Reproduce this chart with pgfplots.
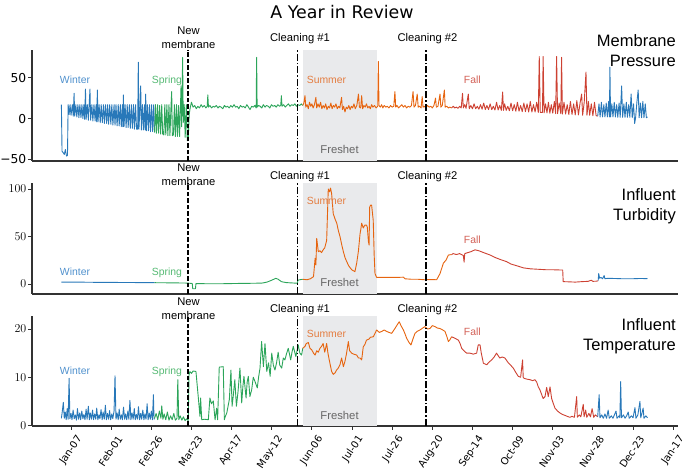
\documentclass[border=0pt]{standalone}
\usepackage{pgfplots}
\pgfplotsset{compat=1.18}
\usepackage{fontspec}
\setmainfont{Liberation Sans}
\newfontfamily\dejavu{DejaVu Sans}
\definecolor{cW}{RGB}{40,120,185}
\definecolor{cSp}{RGB}{44,165,90}
\definecolor{cSu}{RGB}{230,100,15}
\definecolor{cF}{RGB}{205,65,50}
\definecolor{lW}{RGB}{80,145,205}
\definecolor{lSp}{RGB}{85,185,115}
\definecolor{lSu}{RGB}{228,125,65}
\definecolor{lF}{RGB}{210,95,85}
\definecolor{shade}{RGB}{233,234,236}
\definecolor{spine}{RGB}{50,50,50}
\pgfplotsset{
  panel/.style={scale only axis, width=646pt, xmin=-18.3, xmax=384,
    axis x line*=bottom, axis y line*=left,
    axis line style={line width=1.1pt, color=spine},
    every tick/.style={spine, line width=0.9pt},
    tick align=outside, major tick length=4pt,
    yticklabel style={font=\dejavu\fontsize{12.3}{14}\selectfont, inner sep=1.5pt},
    clip=false},
  data/.style={line width=0.9pt, line join=round},
  memb/.style={black, line width=1.3pt, dash pattern=on 4.5pt off 2pt},
  clean/.style={black, line width=1.3pt, dash pattern=on 7pt off 2pt on 1.5pt off 2pt},
}
\begin{document}
\begin{tikzpicture}
\useasboundingbox (0pt,0pt) rectangle (685pt,470pt);
\node[font=\dejavu\fontsize{17.4}{20}\selectfont] at (342pt,458pt) {A Year in Review};
% ---------------- Panel 1: Membrane Pressure
\begin{axis}[panel, at={(32pt,309pt)}, anchor=south west, height=111pt,
  ymin=-52, ymax=84, xtick=\empty, ytick={-50,0,50}, yticklabels={−50,0,50}]
\addplot[draw=none, fill=shade] coordinates {(150.3,-52) (196.3,-52) (196.3,84) (150.3,84)} -- cycle;
\addplot[data, cW] coordinates {(0,17)(0.4,-40)(1.2,-42)(1.8,-44)(2.5,-38)(3.2,-46)(3.8,-45)(4.2,17)(4.8,5)(5.4,17)(6,4)(6.8,17)(7.4,3)(7.9,31)(8.3,3)(9,17)(9.6,2)(10.3,17)(10.9,1)(11.5,17)(12.2,1)(12.8,17)(13.4,0)(14,17)(14.5,-1)(15,36)(15.4,-1)(16.2,17)(16.8,-2)(17.8,36)(18.2,-2)(19,17)(19.6,-3)(20.3,17)(21,-3)(21.6,17)(22,-4)(22.4,35)(22.8,-4)(23.5,17)(24.2,-5)(24.8,17)(25.5,-5)(26.2,17)(26.8,-6)(27.5,17)(28.2,-6)(28.8,17)(29.4,-7)(30.1,17)(30.8,-7)(31.4,17)(32.1,-8)(32.8,17)(33.4,-8)(34,17)(34.7,-9)(35.4,17)(36,-9)(36.7,17)(37.3,-10)(38,17)(38.3,-10)(38.6,29)(39,-10)(39.7,17)(40.3,-11)(41,17)(41.6,-11)(42.3,17)(42.9,-12)(43.6,17)(44.2,-12)(44.9,17)(45.5,-13)(46.2,17)(46.8,-13)(47.5,-13)(47.9,69)(48.3,-13)(49,17)(49.4,40)(49.8,-14)(50.5,17)(51.1,-14)(51.8,17)(52.2,-14)(52.5,30)(52.9,-15)(53.6,17)(54.2,-15)(54.9,17)(55.5,-16)(56.2,17)(56.8,-16)(57.5,17)(58,-17)};
\addplot[data, cSp] coordinates {(58,-17)(58.6,17)(59.2,-18)(59.9,17)(60.5,-18)(61.2,16)(61.8,-19)(62.5,17)(63.1,-19)(63.8,-20)(64.4,17)(65,-20)(65.7,17)(66.3,-21)(67,17)(67.6,-21)(68.3,17)(68.7,33)(69.1,-21)(69.8,-20)(70.4,17)(71,-22)(71.7,17)(72.3,-22)(73,16)(73.6,-22)(74.2,17)(74.5,40)(74.9,-10)(75.5,75)(75.9,-5)(76.5,17)(77.1,-23)(77.8,17)(78.4,-27)(79,-25)(79.6,5)(80.2,13)(81,20)(82,14)(83,16)(84,12)(85,15)(86,13)(87,17)(88,14)(89,16)(90,13)(90.8,15)(91.2,29)(91.6,14)(92.5,16)(93.5,13)(94.5,15)(95.5,14)(96.5,16)(97.5,13)(98.5,15)(99.5,14)(100.5,12)(101.5,16)(102.5,14)(103.5,15)(104.5,13)(105.5,16)(106.5,14)(107.5,17)(108.5,14)(109.5,15)(110.5,12)(111.5,16)(112.5,14)(113.5,15)(114.5,13)(115.5,17)(116.5,14)(117.5,11)(118.5,15)(119.5,14)(120.5,16)(121.3,13)(121.6,75)(121.9,14)(122.8,16)(123.8,15)(124.8,13)(125.8,17)(126.8,14)(127.8,16)(128.8,15)(129.8,13)(130.8,17)(131.8,15)(132.8,16)(133.8,14)(134.8,17)(135.8,15)(136.6,16)(137,28)(137.4,15)(138.4,17)(139.4,14)(140.4,16)(141.4,18)(142.4,15)(143.4,17)(144.4,16)(145.4,18)(146.4,15)(147.4,17)(148.4,16)(149.4,18)(150.3,16)};
\addplot[data, cSu] coordinates {(150.3,16)(151,19)(151.7,28)(152.2,14)(153,17)(153.8,12)(154.5,20)(155.3,15)(156,18)(156.8,13)(157.6,17)(158.5,26)(159,13)(159.8,18)(160.6,14)(161.4,20)(162.2,12)(163,16)(163.8,13)(164.6,18)(165.4,11)(166.2,15)(167,13)(167.8,19)(168.6,12)(169.4,16)(170.2,14)(171,18)(171.8,12)(172.6,15)(173.4,13)(174.5,26)(175,11)(175.8,15)(176.6,8)(177.4,14)(178.2,12)(179,16)(179.8,11)(180.6,15)(181.4,13)(182.2,18)(183,12)(184,16)(185,30)(185.6,14)(186.4,13)(187,28)(187.6,12)(188.4,16)(189.2,14)(190,18)(190.8,13)(191.6,15)(192.4,12)(193.2,17)(194,14)(195,16)(196,13)(197,15)(197.4,70)(197.8,16)(198.6,14)(199.4,17)(200.2,13)(201,16)(202,14)(203,15)(204,13)(205,16)(206,14)(207,15)(207.7,33)(208.2,14)(209,16)(210,13)(211,15)(212,17)(213,14)(214,16)(215,13)(216,15)(217,14)(218,16)(219,33)(219.6,14)(220.5,16)(221.6,30)(222.2,14)(223,15)(224,13)(224.7,27)(225.2,14)(226,15)(227,13)(228,16)(229,14)(230,15)(231,13)(232,16)(233,25)(233.5,14)(234.5,15)(235.8,30)(236.3,14)(237.2,16)(238.5,35)(239,14)(240,15)(241,13)(242,14)(243,13)};
\addplot[data, cF] coordinates {(243,13)(244,15)(245,13)(246,14)(247,12.5)(248,15)(249,13)(249.8,31)(250.3,13)(251.2,17)(252,12.5)(253.4,30)(254,12)(255,16)(256,12)(257,18)(258,12)(259,15)(260,11.5)(261,17)(262,11.5)(263,19)(264,11)(265,16)(266,11)(267,18)(268,11)(269,15)(270,10.5)(271,20)(272,10.5)(273,16)(274,10)(274.8,32.5)(275.3,10)(276,18)(277,10)(278,15)(279,9.5)(280,19)(281,9.5)(282,17)(283,9)(284,20)(285,9)(286,16)(287,8.5)(288,19)(289,8.5)(290,18)(291,8)(292,21)(293,8)(294,17)(295,8)(296,20)(297,7.5)(297.6,76)(298.2,7.5)(299.6,7.5)(300,76)(300.6,7)(301.5,18)(302.4,7)(303.3,20)(304.2,6.5)(305.1,17)(306,6.5)(307,21)(307.8,6)(308.4,76)(309,6)(310,19)(311,6)(311.5,75)(312,5.5)(313,20)(314,5.5)(315,17)(316,5)(317,21)(318,5)(319,18)(320,4.5)(321,22)(322,4.5)(323,19)(324,30)(324.6,4)(325.6,20)(326.7,57)(327.3,4)(328.2,21)(329,4)(330,18)(331,3.5)(332,20)(333,3.5)(334,3)};
\addplot[data, cW] coordinates {(334,3)(334.8,18)(335.5,2)(336.3,20)(337,2)(337.8,17)(338.5,2)(339.3,19)(340,2)(340.8,21)(341.3,2)(341.6,63)(342,2)(342.8,18)(343.5,2)(344.3,20)(345,2)(345.8,17)(346.5,1.5)(347.3,19)(348,1.5)(348.9,40)(349.5,1.5)(350.3,18)(351,1.5)(351.8,20)(352.5,1.5)(353.3,17)(354,1.5)(354.8,30)(355.5,1)(356.3,18)(357,-6)(357.6,1)(358.4,20)(359.2,35)(359.8,1)(360.6,19)(361.3,1)(362.1,21)(362.8,1)(363.6,18)(364.3,1)(365,2)};
\addplot[memb] coordinates {(78.9,-52) (78.9,84)};
\addplot[clean] coordinates {(147.2,-52) (147.2,84)};
\addplot[clean] coordinates {(227,-52) (227,84)};
\end{axis}
% ---------------- Panel 2: Influent Turbidity
\begin{axis}[panel, at={(32pt,176pt)}, anchor=south west, height=111pt,
  ymin=-10.5, ymax=106.3, xtick=\empty, ytick={0,50,100}]
\addplot[draw=none, fill=shade] coordinates {(150.3,-10.5) (196.3,-10.5) (196.3,106.3) (150.3,106.3)} -- cycle;
\addplot[data, cW] coordinates {(0,2)(10,2)(20,1.8)(30,1.7)(40,1.6)(50,1.5)(58,1.4)};
\addplot[data, cSp] coordinates {(58,1.4)(70,1.2)(78,1)(80,0.8)(81.5,0.5)(81.8,-5)(83.5,-5)(83.8,0.5)(90,0.3)(100,0.3)(110,0.6)(120,0.8)(125,1)(128,2)(131,4)(133.5,6)(135,5)(137,2.5)(140,1.5)(145,1)(147,1)(147.3,4)(148.5,4.5)(150.3,5)};
\addplot[data, cSu] coordinates {(150.3,5)(153,4.5)(155,5.5)(157,7.7)(157.5,17)(158,27)(158.5,20)(159,48)(160,34)(161,35)(162,33)(163,36)(164,38)(165.2,46)(166.2,100)(167,97)(167.6,101)(168.3,95)(169.3,74)(170.5,68)(171.5,64)(172.5,56)(173.5,50)(174.5,42)(175.6,34)(176.6,28)(177.7,23.5)(179,19)(180.8,15)(182.8,13)(183.9,22)(185,35)(186,53)(186.5,58)(187,64)(188,59)(189,62)(190,62)(190.5,60)(191.2,45)(191.6,41)(192,81)(192.6,83)(193.2,83)(194.2,67)(194.8,30)(195.3,11)(196.3,7)(200,7)(205,7)(210,7)(213,7.2)(214,5.5)(218,5)(222,5)(226,4.5)(230,4.7)(233.7,4.5)(235.8,11)(237.9,22)(239.5,25)(241,30.5)(243,31)};
\addplot[data, cF] coordinates {(243,31)(244,32)(246,31)(248,32)(250.3,30)(250.8,23)(251.2,32)(253,33)(255,34)(257.6,36)(260,35)(263,33)(267,30.5)(270,28)(273,26)(277.3,23.5)(280,21)(284,19)(287.7,17)(292,16)(298,15.4)(302,15)(306,15)(310,14.8)(312.2,14.7)(312.5,2.5)(316,2.3)(320,2)(324,2.5)(328,2.8)(330,4)(331,2.8)(333.3,3)(334.3,3.5)};
\addplot[data, cW] coordinates {(334.3,3.5)(334.6,11)(335.2,6)(336,7)(337,5.5)(338,9)(338.5,5.5)(340,6)(345,5.8)(350,5.5)(355,5.5)(360,5.8)(365,5.7)};
\addplot[memb] coordinates {(78.9,-10.5) (78.9,106.3)};
\addplot[clean] coordinates {(147.2,-10.5) (147.2,106.3)};
\addplot[clean] coordinates {(227,-10.5) (227,106.3)};
\end{axis}
% ---------------- Panel 3: Influent Temperature
\begin{axis}[panel, at={(32pt,44pt)}, anchor=south west, height=110pt,
  ymin=-0.1, ymax=22.7, ytick={0,10,20},
  xtick={6,31,56,81,106,131,156,181,206,231,256,281,306,331,356,381},
  xticklabels={Jan-07,Feb-01,Feb-26,Mar-23,Apr-17,May-12,Jun-06,Jul-01,Jul-26,Aug-20,Sep-14,Oct-09,Nov-03,Nov-28,Dec-23,Jan-17},
  xticklabel style={font=\dejavu\fontsize{10}{12}\selectfont, xshift=9.5pt, yshift=-6pt, rotate=56, anchor=east, inner sep=1pt}]
\addplot[draw=none, fill=shade] coordinates {(150.3,-0.1) (196.3,-0.1) (196.3,22.7) (150.3,22.7)} -- cycle;
\addplot[data, cW] coordinates {(0,1.5)(0.6,3)(1.2,4.8)(1.8,1.5)(2.4,2.8)(3,1.2)(3.6,3.5)(4.2,1.3)(4.8,9.8)(5.3,1.4)(6,2.5)(6.6,1.2)(7.3,3.2)(8,1.4)(8.7,2.2)(9.4,1.1)(10,3.5)(10.7,1.3)(11.4,2.6)(12,1.2)(12.7,3)(13.4,1.4)(14,2.3)(14.7,1.2)(15.4,3.4)(16,1.3)(16.8,4)(17.4,1.2)(18,2.6)(18.7,1.3)(19.4,3.2)(20,1.2)(20.7,2.4)(21.4,1.3)(22,3.6)(22.7,1.2)(23.4,2.2)(24,1.4)(24.7,3.3)(25.4,1.2)(26,2.8)(26.7,1.3)(27.4,4.2)(28,1.2)(28.7,2.5)(29.4,1.3)(30,3.1)(30.7,1.2)(31.4,2.4)(32,1.4)(32.8,3)(33.4,10.3)(34,1.3)(34.7,2.6)(35.4,1.2)(36,3.4)(36.7,1.3)(37.4,2.2)(38,1.2)(38.7,3.8)(39.4,1.3)(40,2.4)(40.7,1.2)(41.4,3)(42,1.3)(42.7,5.2)(43.3,1.2)(44,2.6)(44.7,1.3)(45.4,3.5)(46,1.2)(46.7,2.3)(47.4,1.3)(48,3.9)(48.7,1.2)(49.4,2.5)(50,1.3)(50.7,3.2)(51.4,1.2)(52,2.4)(52.7,1.3)(53.4,4.5)(54,1.2)(54.7,2.6)(55.4,1.3)(56,3)(56.7,1.2)(57.3,6.4)(57.7,1.3)(58,1.5)};
\addplot[data, cSp] coordinates {(58,1.5)(59,2.5)(60,1.2)(61,3)(62,1.5)(62.5,4.1)(63.2,1.3)(64,2.4)(65,1.2)(66,2.8)(67,1.1)(68,2)(69,1.2)(70,2.5)(71,1.1)(72,1.5)(72.5,9.5)(73.1,1.2)(74,2)(75,1.1)(76,1.8)(77,1.0)(78,1.4)(79,1.0)(79.5,10.5)(80,11.2)(81,10.8)(82,11.3)(83.8,11.2)(85.3,5.7)(86.3,1.9)(86.7,5.7)(87.4,1.2)(89,1.3)(91.5,1.2)(92.5,5.7)(93.5,4.5)(94.6,5.1)(95.7,1.2)(96.7,3.6)(97.3,1.2)(98.3,12.1)(100.8,12.2)(101.5,1.2)(102,1.8)(103,2.6)(104.6,5.4)(105.6,11.5)(106.3,4)(107,6)(108,9.5)(109,4)(110,7)(111.2,11.9)(112.3,4.7)(113,8)(113.7,10.2)(115,5.7)(115.7,9)(116.4,10.2)(117.4,6)(118.5,7.4)(119.5,10)(120.6,9.1)(122,7.8)(122.8,10)(123.7,11.9)(124.7,17.4)(125.8,12.2)(126.8,17)(127.9,11.2)(129,13)(130,10.2)(131,15)(132,12.5)(133,11.5)(134,13)(135,15.2)(136,12.5)(137.2,11.9)(138.2,14)(139.2,13.6)(140.3,15)(141.3,16)(142.8,13.6)(143.5,15)(144.4,16.4)(146,14.3)(147.5,16.7)(148.5,15)(149.6,14.6)(150.3,16)};
\addplot[data, cSu] coordinates {(150.3,16)(151.7,16.4)(152.5,17)(153.8,17.2)(154.8,16)(155.9,15.7)(157,15)(158,14.6)(159,15.5)(160,15.2)(161,16)(162,16.4)(163,17)(164,15.2)(165.2,17)(166,15)(166.8,13.6)(168.3,11.2)(169.3,10.6)(170.4,10.9)(171.4,11.5)(172.4,11.9)(173.5,12.6)(174.5,14)(175.6,12.2)(176.6,13.3)(177.6,15)(178.7,17.4)(179.5,15.5)(180.8,15)(182,14.8)(183.9,14.6)(185,14)(186,14)(187,13.6)(188,16.3)(189,16.8)(190,17.7)(191.5,17.9)(192.5,18.3)(194.3,18.4)(196.3,19.8)(198,19.3)(199.5,19.5)(201,19.8)(202.6,19.5)(204,19.3)(205.7,19.1)(207.7,20.1)(209,20.8)(210.4,21.5)(211.5,20.7)(213,19.8)(214,19)(215,18.1)(216.5,17.2)(217.7,16.7)(219,18)(220.2,19.1)(221.5,19.5)(223.3,19.8)(225,20.2)(226.4,20.5)(228,20)(229.5,20.1)(231,20.7)(232.7,20.5)(234.2,20.2)(235.8,20.1)(237.5,19.8)(238.9,19.5)(240,18.5)(241,17.4)(242,17.8)(243,18.4)};
\addplot[data, cF] coordinates {(243,18.4)(245,18.1)(247.2,17.7)(248.3,17)(249.3,16)(251.3,15.3)(252.4,15)(254.4,15)(256.5,14.8)(258.6,15)(259.6,16.7)(260.7,16.7)(261.5,15)(262.8,12.9)(264.9,12.6)(266.5,13.2)(268,13.6)(269.5,14.2)(271,15)(272,14.5)(273,14)(274.5,14.2)(276.2,14)(278.3,13)(279.8,12.5)(281.4,11.9)(283,11)(284.5,10.2)(286,10)(287.2,13.6)(287.6,10)(288,9.8)(290,9.6)(291.8,9.5)(293.5,9.3)(294.9,9.5)(296,9)(297,8)(298,7.4)(299,6.5)(300,5.6)(301.2,6)(302.2,7.9)(303.2,6)(304.3,8)(305.3,5.6)(306.4,4.5)(307.4,3.6)(309,3)(310.5,2.6)(312,2.3)(313.6,2.1)(315,1.9)(316.7,1.7)(318,1.9)(319.5,1.7)(320.9,6)(321.3,1.7)(322.5,2.2)(323.5,1.8)(325,4.4)(325.5,1.8)(326.5,3.2)(327.2,1.7)(328.5,2.5)(329.5,1.8)(330.5,3.5)(331.5,1.7)(332.5,2.2)(334,1.8)};
\addplot[data, cW] coordinates {(334,1.8)(334.9,6.4)(335.4,1.6)(336.5,2.2)(337.5,1.5)(338.5,2.4)(339.5,1.5)(340.5,3.2)(341.2,1.5)(342.5,2)(343.5,1.5)(344.5,2.3)(345.4,3)(346,1.5)(347.3,2)(347.8,1.6)(348.3,9.1)(348.8,1.6)(350,2.2)(351,1.5)(352,2)(353,2.8)(353.6,1.5)(355,2)(356,1.6)(357.2,3.7)(357.8,1.5)(359,2.2)(360.3,5)(360.8,1.6)(361.5,2.5)(362.3,3.6)(362.8,1.5)(364,2)(365,1.6)};
\addplot[memb] coordinates {(78.9,-0.1) (78.9,22.7)};
\addplot[clean] coordinates {(147.2,-0.1) (147.2,22.7)};
\addplot[clean] coordinates {(227,-0.1) (227,22.7)};
\end{axis}
% ---------------- Text annotations
\begin{scope}[x=1pt, y=1pt, every node/.style={font=\fontsize{11.2}{13}\selectfont, anchor=base, inner sep=0pt}]
\node at (188.5,435.7) {New};
\node at (188.5,421.7) {membrane};
\node at (300,428.3) {Cleaning \#1};
\node at (427.5,428.3) {Cleaning \#2};
\node at (188.5,298) {New};
\node at (188.5,284) {membrane};
\node at (300,290) {Cleaning \#1};
\node at (427.5,290.7) {Cleaning \#2};
\node at (188.5,164.3) {New};
\node at (188.5,150.7) {membrane};
\node at (300,157.3) {Cleaning \#1};
\node at (427.5,157.3) {Cleaning \#2};
\end{scope}
\begin{scope}[x=1pt, y=1pt, every node/.style={font=\fontsize{11.3}{13}\selectfont, anchor=base, inner sep=0pt, text=black!60}]
\node at (339.5,316) {Freshet};
\node at (339.5,183.3) {Freshet};
\node at (339.5,50) {Freshet};
\end{scope}
\begin{scope}[x=1pt, y=1pt, every node/.style={font=\fontsize{10.4}{12}\selectfont, anchor=base, inner sep=0pt}]
\node[text=lW] at (75,386.3) {Winter};
\node[text=lSp] at (167,386.3) {Spring};
\node[text=lSu] at (326.5,386.3) {Summer};
\node[text=lF] at (472.3,386.3) {Fall};
\node[text=lW] at (75,194.6) {Winter};
\node[text=lSp] at (167,194.6) {Spring};
\node[text=lSu] at (326.5,265.3) {Summer};
\node[text=lF] at (472.3,226.3) {Fall};
\node[text=lW] at (75,95) {Winter};
\node[text=lSp] at (167,95) {Spring};
\node[text=lSu] at (326.5,132.3) {Summer};
\node[text=lF] at (472.3,134.6) {Fall};
\end{scope}
\begin{scope}[x=1pt, y=1pt, every node/.style={font=\fontsize{16.5}{19}\selectfont, anchor=base east, inner sep=0pt}]
\node at (676,423.3) {Membrane};
\node at (676,403.3) {Pressure};
\node at (676,269.3) {Influent};
\node at (676,249) {Turbidity};
\node at (676,139.3) {Influent};
\node at (676,119) {Temperature};
\end{scope}
\end{tikzpicture}
\end{document}
